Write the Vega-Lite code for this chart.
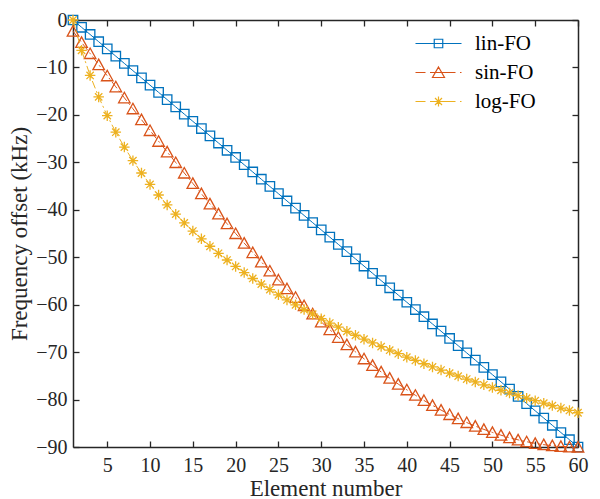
{
  "$schema": "https://vega.github.io/schema/vega-lite/v6.json",
  "width": 505,
  "height": 427,
  "autosize": {"type": "none"},
  "padding": {"left": 73, "top": 20, "right": 22, "bottom": 52},
  "background": "white",
  "config": {
    "view": {"stroke": null},
    "axis": {
      "grid": false,
      "labelFont": "Liberation Serif",
      "titleFont": "Liberation Serif",
      "labelFontSize": 20,
      "titleFontSize": 23,
      "titleFontWeight": "normal",
      "labelColor": "#262626",
      "titleColor": "#262626",
      "domainColor": "#262626",
      "tickColor": "#262626",
      "domainWidth": 1.5,
      "tickWidth": 1.3,
      "tickSize": -6,
      "labelFlush": false
    },
    "legend": {
      "labelFont": "Liberation Serif",
      "labelFontSize": 21,
      "labelColor": "#000000"
    }
  },
  "data": {
    "values": [
      {"element": 1, "series": "lin-FO", "offset": 0},
      {"element": 2, "series": "lin-FO", "offset": -1.53},
      {"element": 3, "series": "lin-FO", "offset": -3.05},
      {"element": 4, "series": "lin-FO", "offset": -4.58},
      {"element": 5, "series": "lin-FO", "offset": -6.10},
      {"element": 6, "series": "lin-FO", "offset": -7.63},
      {"element": 7, "series": "lin-FO", "offset": -9.15},
      {"element": 8, "series": "lin-FO", "offset": -10.68},
      {"element": 9, "series": "lin-FO", "offset": -12.20},
      {"element": 10, "series": "lin-FO", "offset": -13.73},
      {"element": 11, "series": "lin-FO", "offset": -15.25},
      {"element": 12, "series": "lin-FO", "offset": -16.78},
      {"element": 13, "series": "lin-FO", "offset": -18.31},
      {"element": 14, "series": "lin-FO", "offset": -19.83},
      {"element": 15, "series": "lin-FO", "offset": -21.36},
      {"element": 16, "series": "lin-FO", "offset": -22.88},
      {"element": 17, "series": "lin-FO", "offset": -24.41},
      {"element": 18, "series": "lin-FO", "offset": -25.93},
      {"element": 19, "series": "lin-FO", "offset": -27.46},
      {"element": 20, "series": "lin-FO", "offset": -28.98},
      {"element": 21, "series": "lin-FO", "offset": -30.51},
      {"element": 22, "series": "lin-FO", "offset": -32.03},
      {"element": 23, "series": "lin-FO", "offset": -33.56},
      {"element": 24, "series": "lin-FO", "offset": -35.08},
      {"element": 25, "series": "lin-FO", "offset": -36.61},
      {"element": 26, "series": "lin-FO", "offset": -38.14},
      {"element": 27, "series": "lin-FO", "offset": -39.66},
      {"element": 28, "series": "lin-FO", "offset": -41.19},
      {"element": 29, "series": "lin-FO", "offset": -42.71},
      {"element": 30, "series": "lin-FO", "offset": -44.24},
      {"element": 31, "series": "lin-FO", "offset": -45.76},
      {"element": 32, "series": "lin-FO", "offset": -47.29},
      {"element": 33, "series": "lin-FO", "offset": -48.81},
      {"element": 34, "series": "lin-FO", "offset": -50.34},
      {"element": 35, "series": "lin-FO", "offset": -51.86},
      {"element": 36, "series": "lin-FO", "offset": -53.39},
      {"element": 37, "series": "lin-FO", "offset": -54.92},
      {"element": 38, "series": "lin-FO", "offset": -56.44},
      {"element": 39, "series": "lin-FO", "offset": -57.97},
      {"element": 40, "series": "lin-FO", "offset": -59.49},
      {"element": 41, "series": "lin-FO", "offset": -61.02},
      {"element": 42, "series": "lin-FO", "offset": -62.54},
      {"element": 43, "series": "lin-FO", "offset": -64.07},
      {"element": 44, "series": "lin-FO", "offset": -65.59},
      {"element": 45, "series": "lin-FO", "offset": -67.12},
      {"element": 46, "series": "lin-FO", "offset": -68.64},
      {"element": 47, "series": "lin-FO", "offset": -70.17},
      {"element": 48, "series": "lin-FO", "offset": -71.69},
      {"element": 49, "series": "lin-FO", "offset": -73.22},
      {"element": 50, "series": "lin-FO", "offset": -74.75},
      {"element": 51, "series": "lin-FO", "offset": -76.27},
      {"element": 52, "series": "lin-FO", "offset": -77.80},
      {"element": 53, "series": "lin-FO", "offset": -79.32},
      {"element": 54, "series": "lin-FO", "offset": -80.85},
      {"element": 55, "series": "lin-FO", "offset": -82.37},
      {"element": 56, "series": "lin-FO", "offset": -83.90},
      {"element": 57, "series": "lin-FO", "offset": -85.42},
      {"element": 58, "series": "lin-FO", "offset": -86.95},
      {"element": 59, "series": "lin-FO", "offset": -88.47},
      {"element": 60, "series": "lin-FO", "offset": -90.00},
      {"element": 1, "series": "sin-FO", "offset": -2.36},
      {"element": 2, "series": "sin-FO", "offset": -4.71},
      {"element": 3, "series": "sin-FO", "offset": -7.06},
      {"element": 4, "series": "sin-FO", "offset": -9.41},
      {"element": 5, "series": "sin-FO", "offset": -11.75},
      {"element": 6, "series": "sin-FO", "offset": -14.08},
      {"element": 7, "series": "sin-FO", "offset": -16.40},
      {"element": 8, "series": "sin-FO", "offset": -18.71},
      {"element": 9, "series": "sin-FO", "offset": -21.01},
      {"element": 10, "series": "sin-FO", "offset": -23.29},
      {"element": 11, "series": "sin-FO", "offset": -25.56},
      {"element": 12, "series": "sin-FO", "offset": -27.81},
      {"element": 13, "series": "sin-FO", "offset": -30.04},
      {"element": 14, "series": "sin-FO", "offset": -32.25},
      {"element": 15, "series": "sin-FO", "offset": -34.44},
      {"element": 16, "series": "sin-FO", "offset": -36.61},
      {"element": 17, "series": "sin-FO", "offset": -38.75},
      {"element": 18, "series": "sin-FO", "offset": -40.86},
      {"element": 19, "series": "sin-FO", "offset": -42.94},
      {"element": 20, "series": "sin-FO", "offset": -45.00},
      {"element": 21, "series": "sin-FO", "offset": -47.02},
      {"element": 22, "series": "sin-FO", "offset": -49.02},
      {"element": 23, "series": "sin-FO", "offset": -50.98},
      {"element": 24, "series": "sin-FO", "offset": -52.90},
      {"element": 25, "series": "sin-FO", "offset": -54.79},
      {"element": 26, "series": "sin-FO", "offset": -56.64},
      {"element": 27, "series": "sin-FO", "offset": -58.45},
      {"element": 28, "series": "sin-FO", "offset": -60.22},
      {"element": 29, "series": "sin-FO", "offset": -61.95},
      {"element": 30, "series": "sin-FO", "offset": -63.64},
      {"element": 31, "series": "sin-FO", "offset": -65.28},
      {"element": 32, "series": "sin-FO", "offset": -66.88},
      {"element": 33, "series": "sin-FO", "offset": -68.44},
      {"element": 34, "series": "sin-FO", "offset": -69.94},
      {"element": 35, "series": "sin-FO", "offset": -71.40},
      {"element": 36, "series": "sin-FO", "offset": -72.81},
      {"element": 37, "series": "sin-FO", "offset": -74.17},
      {"element": 38, "series": "sin-FO", "offset": -75.48},
      {"element": 39, "series": "sin-FO", "offset": -76.74},
      {"element": 40, "series": "sin-FO", "offset": -77.94},
      {"element": 41, "series": "sin-FO", "offset": -79.09},
      {"element": 42, "series": "sin-FO", "offset": -80.19},
      {"element": 43, "series": "sin-FO", "offset": -81.23},
      {"element": 44, "series": "sin-FO", "offset": -82.22},
      {"element": 45, "series": "sin-FO", "offset": -83.15},
      {"element": 46, "series": "sin-FO", "offset": -84.02},
      {"element": 47, "series": "sin-FO", "offset": -84.84},
      {"element": 48, "series": "sin-FO", "offset": -85.60},
      {"element": 49, "series": "sin-FO", "offset": -86.29},
      {"element": 50, "series": "sin-FO", "offset": -86.93},
      {"element": 51, "series": "sin-FO", "offset": -87.51},
      {"element": 52, "series": "sin-FO", "offset": -88.03},
      {"element": 53, "series": "sin-FO", "offset": -88.49},
      {"element": 54, "series": "sin-FO", "offset": -88.89},
      {"element": 55, "series": "sin-FO", "offset": -89.23},
      {"element": 56, "series": "sin-FO", "offset": -89.51},
      {"element": 57, "series": "sin-FO", "offset": -89.72},
      {"element": 58, "series": "sin-FO", "offset": -89.88},
      {"element": 59, "series": "sin-FO", "offset": -89.97},
      {"element": 60, "series": "sin-FO", "offset": -90.00},
      {"element": 1, "series": "log-FO", "offset": 0},
      {"element": 2, "series": "log-FO", "offset": -6.40},
      {"element": 3, "series": "log-FO", "offset": -11.69},
      {"element": 4, "series": "log-FO", "offset": -16.21},
      {"element": 5, "series": "log-FO", "offset": -20.16},
      {"element": 6, "series": "log-FO", "offset": -23.65},
      {"element": 7, "series": "log-FO", "offset": -26.79},
      {"element": 8, "series": "log-FO", "offset": -29.64},
      {"element": 9, "series": "log-FO", "offset": -32.25},
      {"element": 10, "series": "log-FO", "offset": -34.66},
      {"element": 11, "series": "log-FO", "offset": -36.89},
      {"element": 12, "series": "log-FO", "offset": -38.97},
      {"element": 13, "series": "log-FO", "offset": -40.92},
      {"element": 14, "series": "log-FO", "offset": -42.76},
      {"element": 15, "series": "log-FO", "offset": -44.49},
      {"element": 16, "series": "log-FO", "offset": -46.13},
      {"element": 17, "series": "log-FO", "offset": -47.69},
      {"element": 18, "series": "log-FO", "offset": -49.17},
      {"element": 19, "series": "log-FO", "offset": -50.59},
      {"element": 20, "series": "log-FO", "offset": -51.94},
      {"element": 21, "series": "log-FO", "offset": -53.23},
      {"element": 22, "series": "log-FO", "offset": -54.48},
      {"element": 23, "series": "log-FO", "offset": -55.67},
      {"element": 24, "series": "log-FO", "offset": -56.82},
      {"element": 25, "series": "log-FO", "offset": -57.93},
      {"element": 26, "series": "log-FO", "offset": -59.00},
      {"element": 27, "series": "log-FO", "offset": -60.04},
      {"element": 28, "series": "log-FO", "offset": -61.04},
      {"element": 29, "series": "log-FO", "offset": -62.01},
      {"element": 30, "series": "log-FO", "offset": -62.95},
      {"element": 31, "series": "log-FO", "offset": -63.87},
      {"element": 32, "series": "log-FO", "offset": -64.75},
      {"element": 33, "series": "log-FO", "offset": -65.62},
      {"element": 34, "series": "log-FO", "offset": -66.45},
      {"element": 35, "series": "log-FO", "offset": -67.27},
      {"element": 36, "series": "log-FO", "offset": -68.07},
      {"element": 37, "series": "log-FO", "offset": -68.84},
      {"element": 38, "series": "log-FO", "offset": -69.60},
      {"element": 39, "series": "log-FO", "offset": -70.33},
      {"element": 40, "series": "log-FO", "offset": -71.06},
      {"element": 41, "series": "log-FO", "offset": -71.76},
      {"element": 42, "series": "log-FO", "offset": -72.45},
      {"element": 43, "series": "log-FO", "offset": -73.12},
      {"element": 44, "series": "log-FO", "offset": -73.78},
      {"element": 45, "series": "log-FO", "offset": -74.43},
      {"element": 46, "series": "log-FO", "offset": -75.06},
      {"element": 47, "series": "log-FO", "offset": -75.68},
      {"element": 48, "series": "log-FO", "offset": -76.29},
      {"element": 49, "series": "log-FO", "offset": -76.89},
      {"element": 50, "series": "log-FO", "offset": -77.47},
      {"element": 51, "series": "log-FO", "offset": -78.04},
      {"element": 52, "series": "log-FO", "offset": -78.61},
      {"element": 53, "series": "log-FO", "offset": -79.16},
      {"element": 54, "series": "log-FO", "offset": -79.71},
      {"element": 55, "series": "log-FO", "offset": -80.24},
      {"element": 56, "series": "log-FO", "offset": -80.76},
      {"element": 57, "series": "log-FO", "offset": -81.28},
      {"element": 58, "series": "log-FO", "offset": -81.79},
      {"element": 59, "series": "log-FO", "offset": -82.29},
      {"element": 60, "series": "log-FO", "offset": -82.78}
    ]
  },
  "encoding": {
    "x": {"field": "element", "type": "quantitative", "axis": null},
    "y": {"field": "offset", "type": "quantitative", "axis": null},
    "color": {
      "field": "series", "type": "nominal",
      "scale": {"domain": ["lin-FO", "sin-FO", "log-FO"], "range": ["#0072BD", "#D95319", "#EDB120"]}
    }
  },
  "layer": [
    {
      "transform": [{"filter": "datum.series === 'lin-FO'"}],
      "mark": {"type": "line", "strokeWidth": 1, "clip": false},
      "encoding": {
        "x": {
          "field": "element", "type": "quantitative",
          "scale": {"domain": [1, 60], "nice": false, "zero": false},
          "axis": {"orient": "bottom", "values": [5, 10, 15, 20, 25, 30, 35, 40, 45, 50, 55, 60], "title": "Element number", "labelPadding": 14, "titlePadding": 2}
        },
        "y": {
          "field": "offset", "type": "quantitative",
          "scale": {"domain": [-90, 0], "nice": false, "zero": false},
          "axis": {"orient": "left", "values": [-90, -80, -70, -60, -50, -40, -30, -20, -10, 0], "title": "Frequency offset (kHz)", "labelPadding": 12, "titlePadding": 4}
        },
        "color": {
          "field": "series", "type": "nominal",
          "scale": {"domain": ["lin-FO", "sin-FO", "log-FO"], "range": ["#0072BD", "#D95319", "#EDB120"]},
          "legend": {
            "title": null,
            "orient": "none",
            "legendX": 355,
            "legendY": 13,
            "padding": 0,
            "symbolSize": 100,
            "symbolStrokeWidth": 1.2,
            "symbolFillColor": "transparent",
            "labelOffset": 26,
            "rowPadding": 7,
            "encode": {
              "symbols": {
                "update": {
                  "shape": {"signal": "datum.value === 'lin-FO' ? 'M-4.6,0L4.6,0M-0.85,-0.85L0.85,-0.85L0.85,0.85L-0.85,0.85Z' : datum.value === 'sin-FO' ? 'M-4.6,0L-2.6,0M-1.7,0L3.4,0M4.3,0L4.6,0M0,-1.1L1.2,1L-1.2,1Z' : 'M-4.6,0L-2.6,0M-1.7,0L3.4,0M4.3,0L4.6,0M-1,0L1,0M0,-1L0,1M-0.7,-0.7L0.7,0.7M-0.7,0.7L0.7,-0.7'"},
                  "fill": {"value": "transparent"},
                  "strokeWidth": {"value": 1.2}
                }
              }
            }
          }
        }
      }
    },
    {
      "transform": [{"filter": "datum.series === 'lin-FO'"}],
      "mark": {"type": "point", "filled": false, "strokeWidth": 1.3, "size": 110, "opacity": 1, "clip": false, "shape": "M-0.9,-0.9L0.9,-0.9L0.9,0.9L-0.9,0.9Z"},
      "encoding": {
        "x": {
          "field": "element", "type": "quantitative",
          "axis": {"orient": "top", "values": [5, 10, 15, 20, 25, 30, 35, 40, 45, 50, 55, 60], "labels": false, "title": null}
        },
        "y": {
          "field": "offset", "type": "quantitative",
          "axis": {"orient": "right", "values": [-90, -80, -70, -60, -50, -40, -30, -20, -10, 0], "labels": false, "title": null}
        }
      }
    },
    {
      "transform": [{"filter": "datum.series === 'sin-FO'"}],
      "mark": {"type": "line", "strokeWidth": 1, "clip": false, "strokeDash": [8, 3, 2, 3]}
    },
    {
      "transform": [{"filter": "datum.series === 'sin-FO'"}],
      "mark": {"type": "point", "filled": false, "strokeWidth": 1.3, "size": 110, "opacity": 1, "clip": false, "shape": "M0,-1.05L1.1,0.95L-1.1,0.95Z"}
    },
    {
      "transform": [{"filter": "datum.series === 'log-FO'"}],
      "mark": {"type": "line", "strokeWidth": 1, "clip": false, "strokeDash": [8, 3, 2, 3]}
    },
    {
      "transform": [{"filter": "datum.series === 'log-FO'"}],
      "mark": {"type": "point", "filled": false, "strokeWidth": 1.3, "size": 110, "opacity": 1, "clip": false, "shape": "M-1,0L1,0M0,-1L0,1M-0.7,-0.7L0.7,0.7M-0.7,0.7L0.7,-0.7"}
    }
  ]
}
